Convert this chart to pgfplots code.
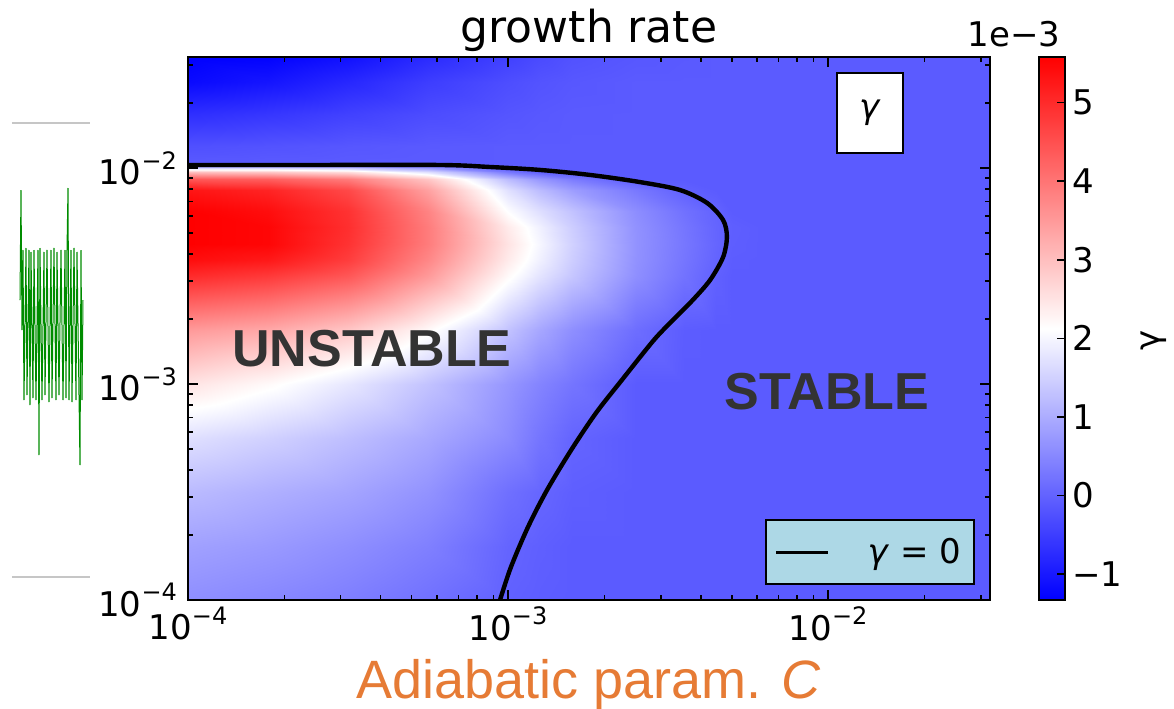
\documentclass[border=0pt]{standalone}
\usepackage{pgfplots}
\pgfplotsset{compat=1.18}
\usepackage{pgfplotstable}
\usepackage{fontspec}
\setmainfont{DejaVu Sans}
\newfontfamily\lib{Liberation Sans}
\definecolor{lblue}{HTML}{ADD8E6}
\definecolor{xorange}{HTML}{E67B35}
\definecolor{txtgray}{HTML}{333333}
\newcommand\tl[1]{10\raisebox{0.45em}{\fontsize{12}{12}\selectfont −#1}}
\pgfplotstableread{
x y g
1e-4 1e-4 0.6
1.778e-4 1e-4 0.5
3.162e-4 1e-4 0.38
5.623e-4 1e-4 0.2
1e-3 1e-4 -0.02
1.259e-3 1e-4 -0.07
1.585e-3 1e-4 -0.1
2.512e-3 1e-4 -0.1
3.548e-3 1e-4 -0.1
4.467e-3 1e-4 -0.1
5.012e-3 1e-4 -0.1
6.310e-3 1e-4 -0.1
1e-2 1e-4 -0.1
1.778e-2 1e-4 -0.1
3.206e-2 1e-4 -0.1

1e-4 1.778e-4 0.85
1.778e-4 1.778e-4 0.75
3.162e-4 1.778e-4 0.6
5.623e-4 1.778e-4 0.4
1e-3 1.778e-4 0.03
1.259e-3 1.778e-4 -0.04
1.585e-3 1.778e-4 -0.1
2.512e-3 1.778e-4 -0.1
3.548e-3 1.778e-4 -0.1
4.467e-3 1.778e-4 -0.1
5.012e-3 1.778e-4 -0.1
6.310e-3 1.778e-4 -0.1
1e-2 1.778e-4 -0.1
1.778e-2 1.778e-4 -0.1
3.206e-2 1.778e-4 -0.1

1e-4 3.162e-4 1.2
1.778e-4 3.162e-4 1.05
3.162e-4 3.162e-4 0.9
5.623e-4 3.162e-4 0.65
1e-3 3.162e-4 0.18
1.259e-3 3.162e-4 0.05
1.585e-3 3.162e-4 -0.05
2.512e-3 3.162e-4 -0.1
3.548e-3 3.162e-4 -0.1
4.467e-3 3.162e-4 -0.1
5.012e-3 3.162e-4 -0.1
6.310e-3 3.162e-4 -0.1
1e-2 3.162e-4 -0.1
1.778e-2 3.162e-4 -0.1
3.206e-2 3.162e-4 -0.1

1e-4 5.623e-4 1.7
1.778e-4 5.623e-4 1.5
3.162e-4 5.623e-4 1.25
5.623e-4 5.623e-4 0.95
1e-3 5.623e-4 0.55
1.259e-3 5.623e-4 0.25
1.585e-3 5.623e-4 0.03
2.512e-3 5.623e-4 -0.1
3.548e-3 5.623e-4 -0.1
4.467e-3 5.623e-4 -0.1
5.012e-3 5.623e-4 -0.1
6.310e-3 5.623e-4 -0.1
1e-2 5.623e-4 -0.1
1.778e-2 5.623e-4 -0.1
3.206e-2 5.623e-4 -0.1

1e-4 1e-3 2.5
1.778e-4 1e-3 2.2
3.162e-4 1e-3 1.8
5.623e-4 1e-3 1.3
1e-3 1e-3 0.7
1.259e-3 1e-3 0.45
1.585e-3 1e-3 0.25
2.512e-3 1e-3 -0.1
3.548e-3 1e-3 -0.1
4.467e-3 1e-3 -0.1
5.012e-3 1e-3 -0.1
6.310e-3 1e-3 -0.1
1e-2 1e-3 -0.1
1.778e-2 1e-3 -0.1
3.206e-2 1e-3 -0.1

1e-4 1.778e-3 3.5
1.778e-4 1.778e-3 3.3
3.162e-4 1.778e-3 2.9
5.623e-4 1.778e-3 2.2
1e-3 1.778e-3 1.3
1.259e-3 1.778e-3 0.92
1.585e-3 1.778e-3 0.6
2.512e-3 1.778e-3 0.15
3.548e-3 1.778e-3 -0.08
4.467e-3 1.778e-3 -0.1
5.012e-3 1.778e-3 -0.1
6.310e-3 1.778e-3 -0.1
1e-2 1.778e-3 -0.1
1.778e-2 1.778e-3 -0.1
3.206e-2 1.778e-3 -0.1

1e-4 3.162e-3 5.0
1.778e-4 3.162e-3 4.8
3.162e-4 3.162e-3 4.4
5.623e-4 3.162e-3 3.5
1e-3 3.162e-3 2.2
1.259e-3 3.162e-3 1.75
1.585e-3 3.162e-3 1.35
2.512e-3 3.162e-3 0.6
3.548e-3 3.162e-3 0.22
4.467e-3 3.162e-3 -0.02
5.012e-3 3.162e-3 -0.1
6.310e-3 3.162e-3 -0.1
1e-2 3.162e-3 -0.1
1.778e-2 3.162e-3 -0.1
3.206e-2 3.162e-3 -0.1

1e-4 3.758e-3 5.4
1.778e-4 3.758e-3 5.25
3.162e-4 3.758e-3 4.75
5.623e-4 3.758e-3 3.75
1e-3 3.758e-3 2.4
1.259e-3 3.758e-3 1.92
1.585e-3 3.758e-3 1.45
2.512e-3 3.758e-3 0.64
3.548e-3 3.758e-3 0.26
4.467e-3 3.758e-3 0.02
5.012e-3 3.758e-3 -0.08
6.310e-3 3.758e-3 -0.1
1e-2 3.758e-3 -0.1
1.778e-2 3.758e-3 -0.1
3.206e-2 3.758e-3 -0.1

1e-4 4.467e-3 5.6
1.778e-4 4.467e-3 5.5
3.162e-4 4.467e-3 4.9
5.623e-4 4.467e-3 3.9
1e-3 4.467e-3 2.5
1.259e-3 4.467e-3 2.0
1.585e-3 4.467e-3 1.5
2.512e-3 4.467e-3 0.65
3.548e-3 4.467e-3 0.28
4.467e-3 4.467e-3 0.04
5.012e-3 4.467e-3 -0.06
6.310e-3 4.467e-3 -0.1
1e-2 4.467e-3 -0.1
1.778e-2 4.467e-3 -0.1
3.206e-2 4.467e-3 -0.1

1e-4 5.309e-3 5.6
1.778e-4 5.309e-3 5.5
3.162e-4 5.309e-3 4.95
5.623e-4 5.309e-3 3.9
1e-3 5.309e-3 2.4
1.259e-3 5.309e-3 1.92
1.585e-3 5.309e-3 1.45
2.512e-3 5.309e-3 0.64
3.548e-3 5.309e-3 0.26
4.467e-3 5.309e-3 0.03
5.012e-3 5.309e-3 -0.05
6.310e-3 5.309e-3 -0.1
1e-2 5.309e-3 -0.1
1.778e-2 5.309e-3 -0.1
3.206e-2 5.309e-3 -0.1

1e-4 6.310e-3 5.6
1.778e-4 6.310e-3 5.4
3.162e-4 6.310e-3 4.9
5.623e-4 6.310e-3 3.8
1e-3 6.310e-3 2.1
1.259e-3 6.310e-3 1.68
1.585e-3 6.310e-3 1.3
2.512e-3 6.310e-3 0.58
3.548e-3 6.310e-3 0.2
4.467e-3 6.310e-3 0.01
5.012e-3 6.310e-3 -0.1
6.310e-3 6.310e-3 -0.1
1e-2 6.310e-3 -0.1
1.778e-2 6.310e-3 -0.1
3.206e-2 6.310e-3 -0.1

1e-4 7.943e-3 5.3
1.778e-4 7.943e-3 5.1
3.162e-4 7.943e-3 4.6
5.623e-4 7.943e-3 3.4
1e-3 7.943e-3 1.7
1.259e-3 7.943e-3 1.2
1.585e-3 7.943e-3 0.8
2.512e-3 7.943e-3 0.3
3.548e-3 7.943e-3 -0.02
4.467e-3 7.943e-3 -0.1
5.012e-3 7.943e-3 -0.1
6.310e-3 7.943e-3 -0.1
1e-2 7.943e-3 -0.1
1.778e-2 7.943e-3 -0.1
3.206e-2 7.943e-3 -0.1

1e-4 8.913e-3 4.4
1.778e-4 8.913e-3 4.3
3.162e-4 8.913e-3 3.9
5.623e-4 8.913e-3 2.9
1e-3 8.913e-3 1.2
1.259e-3 8.913e-3 0.7
1.585e-3 8.913e-3 0.35
2.512e-3 8.913e-3 -0.1
3.548e-3 8.913e-3 -0.1
4.467e-3 8.913e-3 -0.1
5.012e-3 8.913e-3 -0.1
6.310e-3 8.913e-3 -0.1
1e-2 8.913e-3 -0.1
1.778e-2 8.913e-3 -0.1
3.206e-2 8.913e-3 -0.1

1e-4 9.550e-3 3.0
1.778e-4 9.550e-3 2.9
3.162e-4 9.550e-3 2.6
5.623e-4 9.550e-3 1.7
1e-3 9.550e-3 0.3
1.259e-3 9.550e-3 -0.02
1.585e-3 9.550e-3 -0.1
2.512e-3 9.550e-3 -0.1
3.548e-3 9.550e-3 -0.1
4.467e-3 9.550e-3 -0.1
5.012e-3 9.550e-3 -0.1
6.310e-3 9.550e-3 -0.1
1e-2 9.550e-3 -0.1
1.778e-2 9.550e-3 -0.1
3.206e-2 9.550e-3 -0.1

1e-4 1e-2 1.6
1.778e-4 1e-2 1.6
3.162e-4 1e-2 1.4
5.623e-4 1e-2 0.8
1e-3 1e-2 -0.05
1.259e-3 1e-2 -0.08
1.585e-3 1e-2 -0.1
2.512e-3 1e-2 -0.1
3.548e-3 1e-2 -0.1
4.467e-3 1e-2 -0.1
5.012e-3 1e-2 -0.1
6.310e-3 1e-2 -0.1
1e-2 1e-2 -0.1
1.778e-2 1e-2 -0.1
3.206e-2 1e-2 -0.1

1e-4 1.033e-2 -0.05
1.778e-4 1.033e-2 -0.05
3.162e-4 1.033e-2 -0.05
5.623e-4 1.033e-2 -0.06
1e-3 1.033e-2 -0.09
1.259e-3 1.033e-2 -0.1
1.585e-3 1.033e-2 -0.1
2.512e-3 1.033e-2 -0.1
3.548e-3 1.033e-2 -0.1
4.467e-3 1.033e-2 -0.1
5.012e-3 1.033e-2 -0.1
6.310e-3 1.033e-2 -0.1
1e-2 1.033e-2 -0.1
1.778e-2 1.033e-2 -0.1
3.206e-2 1.033e-2 -0.1

1e-4 1.072e-2 -0.13
1.778e-4 1.072e-2 -0.12
3.162e-4 1.072e-2 -0.11
5.623e-4 1.072e-2 -0.1
1e-3 1.072e-2 -0.1
1.259e-3 1.072e-2 -0.1
1.585e-3 1.072e-2 -0.1
2.512e-3 1.072e-2 -0.1
3.548e-3 1.072e-2 -0.1
4.467e-3 1.072e-2 -0.1
5.012e-3 1.072e-2 -0.1
6.310e-3 1.072e-2 -0.1
1e-2 1.072e-2 -0.1
1.778e-2 1.072e-2 -0.1
3.206e-2 1.072e-2 -0.1

1e-4 1.259e-2 -0.25
1.778e-4 1.259e-2 -0.21
3.162e-4 1.259e-2 -0.16
5.623e-4 1.259e-2 -0.12
1e-3 1.259e-2 -0.1
1.259e-3 1.259e-2 -0.1
1.585e-3 1.259e-2 -0.1
2.512e-3 1.259e-2 -0.1
3.548e-3 1.259e-2 -0.1
4.467e-3 1.259e-2 -0.1
5.012e-3 1.259e-2 -0.1
6.310e-3 1.259e-2 -0.1
1e-2 1.259e-2 -0.1
1.778e-2 1.259e-2 -0.1
3.206e-2 1.259e-2 -0.1

1e-4 1.778e-2 -0.7
1.778e-4 1.778e-2 -0.6
3.162e-4 1.778e-2 -0.45
5.623e-4 1.778e-2 -0.3
1e-3 1.778e-2 -0.18
1.259e-3 1.778e-2 -0.14
1.585e-3 1.778e-2 -0.11
2.512e-3 1.778e-2 -0.1
3.548e-3 1.778e-2 -0.1
4.467e-3 1.778e-2 -0.1
5.012e-3 1.778e-2 -0.1
6.310e-3 1.778e-2 -0.1
1e-2 1.778e-2 -0.1
1.778e-2 1.778e-2 -0.1
3.206e-2 1.778e-2 -0.1

1e-4 2.512e-2 -1.2
1.778e-4 2.512e-2 -1.05
3.162e-4 2.512e-2 -0.8
5.623e-4 2.512e-2 -0.5
1e-3 2.512e-2 -0.28
1.259e-3 2.512e-2 -0.2
1.585e-3 2.512e-2 -0.15
2.512e-3 2.512e-2 -0.1
3.548e-3 2.512e-2 -0.1
4.467e-3 2.512e-2 -0.1
5.012e-3 2.512e-2 -0.1
6.310e-3 2.512e-2 -0.1
1e-2 2.512e-2 -0.1
1.778e-2 2.512e-2 -0.1
3.206e-2 2.512e-2 -0.1

1e-4 3.266e-2 -1.33
1.778e-4 3.266e-2 -1.3
3.162e-4 3.266e-2 -1.1
5.623e-4 3.266e-2 -0.75
1e-3 3.266e-2 -0.45
1.259e-3 3.266e-2 -0.32
1.585e-3 3.266e-2 -0.22
2.512e-3 3.266e-2 -0.15
3.548e-3 3.266e-2 -0.12
4.467e-3 3.266e-2 -0.1
5.012e-3 3.266e-2 -0.1
6.310e-3 3.266e-2 -0.1
1e-2 3.266e-2 -0.1
1.778e-2 3.266e-2 -0.1
3.206e-2 3.266e-2 -0.1
}\gammagrid

\begin{document}
\begin{tikzpicture}
\useasboundingbox (-94pt,-54pt) rectangle (493pt,300pt);
% left-over strip at the left edge
\begin{axis}[at={(-88pt,11.5pt)}, anchor=south west, scale only axis,
  width=39pt, height=227pt, xmin=12, xmax=90, ymin=123, ymax=577,
  y dir=reverse, hide axis, clip=false]
\addplot[gray!45, line width=1pt] coordinates {(12,123) (90,123)};
\addplot[gray!45, line width=1pt] coordinates {(12,577) (90,577)};
\addplot[green!55!black, line width=0.5pt] coordinates {
(20,300) (21,190) (22,330) (23,250) (24,400) (26,248) (27,395) (29,250)
(30,405) (31,252) (33,398) (34,250) (36,400) (38,250) (39,455) (40,248)
(42,400) (44,252) (45,395) (47,250) (49,402) (51,250) (52,398) (54,248)
(56,400) (57,252) (59,395) (61,250) (63,400) (65,250) (66,398) (67,250)
(68,188) (69,400) (71,250) (72,402) (74,248) (76,400) (77,252) (79,395)
(80,465) (81,250) (82,400) (83,300)};
\end{axis}

\begin{axis}[
  at={(0,0)}, anchor=south west, scale only axis,
  width=401pt, height=271.5pt,
  xmode=log, ymode=log,
  xmin=1e-4, xmax=3.206e-2, ymin=1e-4, ymax=3.266e-2,
  axis on top,
  axis line style={line width=0.8pt},
  tick align=inside, xtick pos=both, ytick pos=both,
  major tick length=5pt, minor tick length=2.5pt,
  every tick/.style={black, line width=0.8pt},
  xtick={1e-4,1e-3,1e-2}, xticklabels={\tl{4},\tl{3},\tl{2}},
  ytick={1e-4,1e-3,1e-2}, yticklabels={\tl{4},\tl{3},\tl{2}},
  minor xtick={2e-4,3e-4,4e-4,5e-4,6e-4,7e-4,8e-4,9e-4,2e-3,3e-3,4e-3,5e-3,6e-3,7e-3,8e-3,9e-3,2e-2,3e-2},
  minor ytick={2e-4,3e-4,4e-4,5e-4,6e-4,7e-4,8e-4,9e-4,2e-3,3e-3,4e-3,5e-3,6e-3,7e-3,8e-3,9e-3,2e-2,3e-2},
  tick label style={font=\fontsize{17}{20}\selectfont},
  yticklabel style={xshift=-2pt},
  title={growth rate},
  title style={at={(0.5,1)}, anchor=base, yshift=1.5pt, font=\fontsize{22}{26}\selectfont},
  xlabel={{\lib Adiabatic param. \textit{C}}},
  xlabel style={at={(0.5,0)}, anchor=base, yshift=-49pt, font=\fontsize{27}{32}\selectfont, text=xorange},
  colormap={bwr}{rgb=(0,0,1) rgb=(1,1,1) rgb=(1,0,0)},
  point meta min=-1.33, point meta max=5.58,
  colorbar,
  colorbar style={
    at={(parent axis.north east)}, anchor=north west, xshift=16pt,
    scale only axis, width=13pt, height=271.5pt,
    ytick={-1,0,1,2,3,4,5}, yticklabels={−1,0,1,2,3,4,5},
    ytick pos=right, tick align=inside, major tick length=4pt,
    every tick/.style={black, line width=0.8pt},
    axis line style={line width=0.6pt},
    yticklabel style={font=\fontsize{17}{20}\selectfont},
  },
  legend style={at={(0.981,0.0276)}, anchor=south east, fill=lblue, draw=black,
    line width=0.8pt, inner xsep=4.5pt, inner ysep=7pt,
    font=\fontsize{17}{20}\selectfont},
  legend image code/.code={\draw[black, line width=1.4pt] (0pt,0pt) -- (26pt,0pt);},
]
\addplot[surf, shader=interp, mesh/cols=15, point meta=explicit, forget plot]
  table[x=x, y=y, meta=g] {\gammagrid};
\addplot[black, line width=2.2pt, smooth, tension=0.5] coordinates {
(1e-4,1.033e-2) (2.239e-4,1.033e-2) (6.13e-4,1.033e-2) (8.79e-4,1.011e-2)
(1.259e-3,9.80e-3) (1.804e-3,9.29e-3) (2.585e-3,8.61e-3) (3.448e-3,7.91e-3)
(4.19e-3,6.89e-3) (4.70e-3,5.74e-3) (4.83e-3,4.80e-3) (4.70e-3,3.87e-3)
(4.28e-3,3.03e-3) (3.78e-3,2.45e-3) (3.28e-3,1.98e-3) (2.858e-3,1.60e-3)
(2.270e-3,1.045e-3) (1.884e-3,7.35e-4) (1.574e-3,4.94e-4) (1.324e-3,3.23e-4)
(1.155e-3,2.18e-4) (1.021e-3,1.42e-4) (9.44e-4,1e-4)};
\addlegendentry{\quad\textit{γ} = 0}
\end{axis}

\node[font=\lib\bfseries\fontsize{26}{30}\selectfont, text=txtgray] at (92pt,125.5pt) {UNSTABLE};
\node[font=\lib\bfseries\fontsize{26}{30}\selectfont, text=txtgray] at (319.5pt,104pt) {STABLE};
\node[draw=black, line width=0.8pt, fill=white, minimum width=33pt, minimum height=40pt,
  font=\fontsize{17}{20}\selectfont] at (341pt,243.5pt) {\textit{γ}};
\node[anchor=base, font=\fontsize{17}{20}\selectfont] at (413pt,276.5pt) {1e−3};
\node[rotate=90, font=\fontsize{17}{20}\selectfont] at (483pt,130pt) {γ};
\end{tikzpicture}
\end{document}
